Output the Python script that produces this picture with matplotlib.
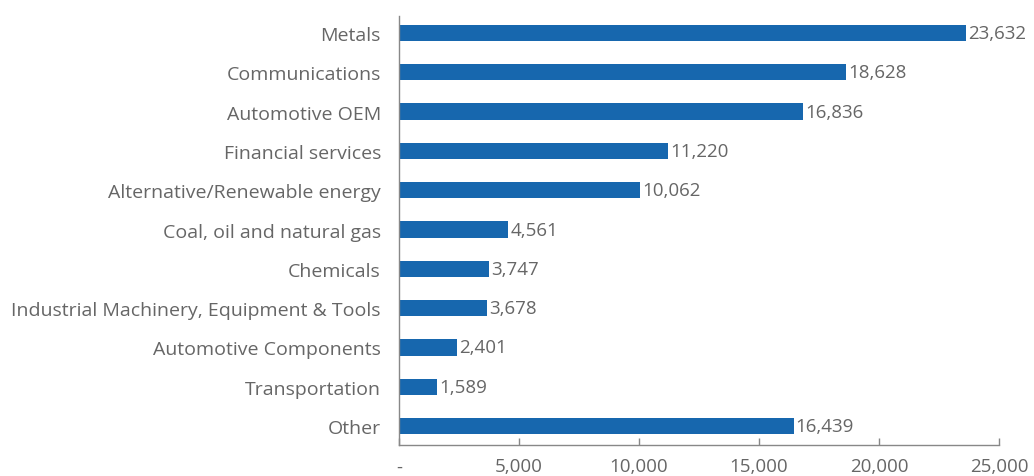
import matplotlib
matplotlib.use("Agg")
import matplotlib.pyplot as plt
from matplotlib.ticker import FuncFormatter

categories = [
    "Metals",
    "Communications",
    "Automotive OEM",
    "Financial services",
    "Alternative/Renewable energy",
    "Coal, oil and natural gas",
    "Chemicals",
    "Industrial Machinery, Equipment & Tools",
    "Automotive Components",
    "Transportation",
    "Other",
]
values = [23632, 18628, 16836, 11220, 10062, 4561, 3747, 3678, 2401, 1589, 16439]
x_ticks = [0, 5000, 10000, 15000, 20000, 25000]

bar_color = "#1767ae"
text_color = "#666666"
axis_color = "#888888"

plt.rcParams["font.family"] = ["Open Sans", "DejaVu Sans"]

fig = plt.figure(figsize=(10.34, 4.77), dpi=100)
ax = fig.add_axes([399 / 1034, 1 - 446 / 477, 600 / 1034, (446 - 17) / 477])

pos = list(range(len(categories)))
ax.barh(pos, values, height=0.42, color=bar_color)

for p, v in zip(pos, values):
    ax.text(v + 90, p, f"{v:,}", va="center", ha="left", fontsize=13.5, color=text_color)

ax.set_xlim(0, 25000)
ax.set_ylim(len(categories) - 1 + 0.48, -0.43)
ax.set_yticks(pos)
ax.set_yticklabels(categories)
ax.set_xticks(x_ticks)
ax.xaxis.set_major_formatter(FuncFormatter(lambda v, _: "-" if v == 0 else f"{int(v):,}"))

ax.tick_params(axis="y", length=0, pad=13, labelsize=14, labelcolor=text_color)
ax.tick_params(axis="x", direction="in", length=5, width=1, color=axis_color,
               pad=9, labelsize=13.5, labelcolor=text_color)

for s in ["top", "right"]:
    ax.spines[s].set_visible(False)
for s in ["left", "bottom"]:
    ax.spines[s].set_color(axis_color)
    ax.spines[s].set_linewidth(1)

fig.savefig("out.png", dpi=100)
